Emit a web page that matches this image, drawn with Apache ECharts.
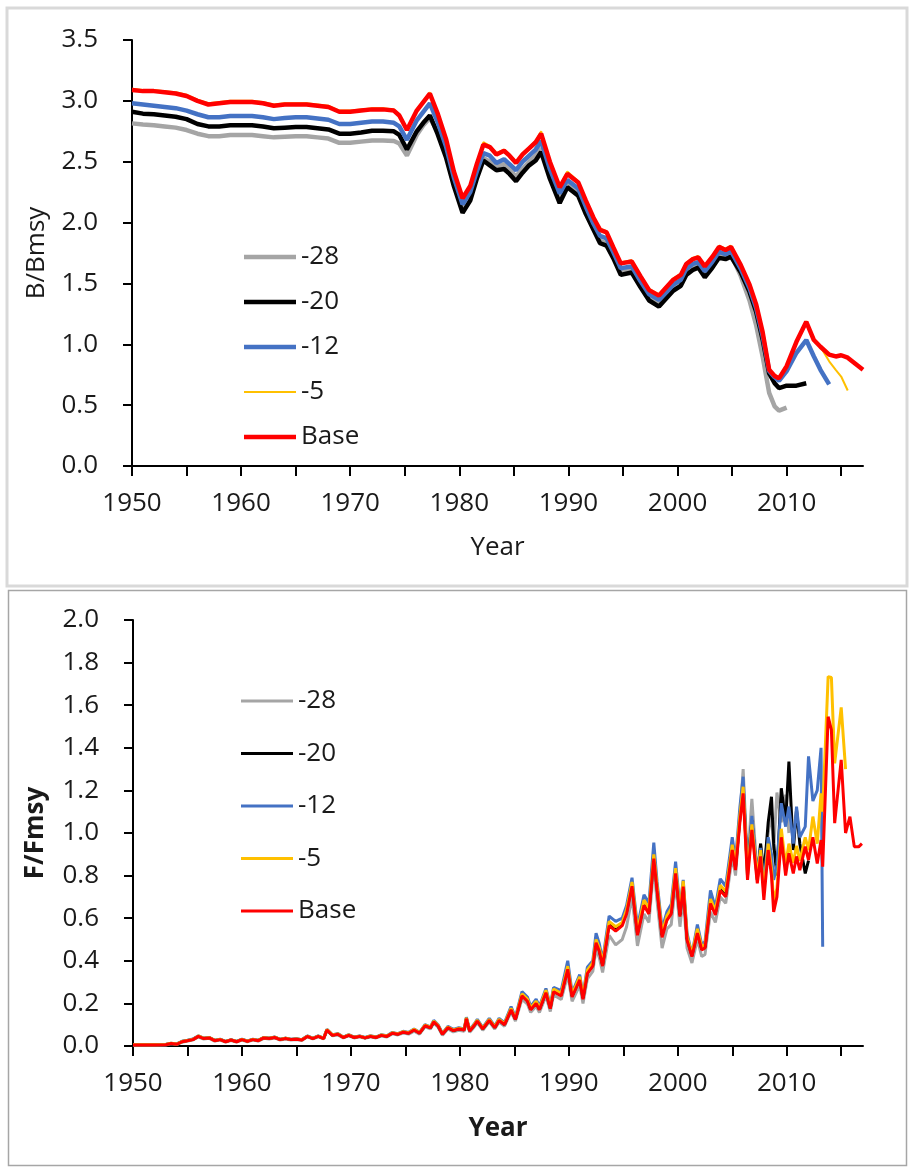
<!DOCTYPE html>
<html>
<head>
<meta charset="utf-8">
<script src="https://cdn.jsdelivr.net/npm/echarts@6/dist/echarts.min.js"></script>
<style>
html,body{margin:0;padding:0;background:#fff;}
#c{width:913px;height:1174px;}
</style>
</head>
<body>
<div id="c"></div>
<script>
// ---------- DATA ----------
const seriesNames = ['-28', '-20', '-12', '-5', 'Base'];
const seriesColors = ['#A5A5A5', '#000000', '#4472C4', '#FFC000', '#FF0000'];
const xTickValues = [1950,1955,1960,1965,1970,1975,1980,1985,1990,1995,2000,2005,2010,2015];
const xLabelValues = [1950,1960,1970,1980,1990,2000,2010];

// B/Bmsy panel
const yearsB = [1950,1951,1952,1953,1954,1955,1956,1957,1958,1959,1960,1961,1962,1963,1964,1965,1966,1967,1968,1969,1970,1971,1972,1973,1974,
  1974.5,1975.2,1976.1,1976.7,1977.3,1978,1978.8,1979.5,1980.3,1981,
  1981.6,1982.2,1982.8,1983.4,1984.1,1984.6,1985.2,1985.8,1986.4,1987,
  1987.5,1988.3,1989.2,1989.9,1990.9,1991.6,1992.3,1992.9,1993.5,1994.1,
  1994.8,1995.8,1996.6,1997.4,1998.3,1999,1999.6,2000.3,2000.8,2001.4,
  2001.9,2002.5,2003.2,2003.8,2004.4,2004.9,2005.8,2006.6,2007.2,2007.8,
  2008.4,2008.9,2009.3,2010,2010.9,2011.8,2012.5,2013.1,2013.9,2014.5,
  2015,2015.6,2016.3,2017];
const bM28 = [2.815,2.805,2.80,2.79,2.78,2.76,2.73,2.71,2.71,2.72,2.72,2.72,2.71,2.70,2.705,2.71,2.71,2.70,2.69,2.655,2.655,2.665,2.675,2.675,2.67,
  2.65,2.55,2.72,2.80,2.86,2.75,2.55,2.32,2.10,2.20,
  2.38,2.53,2.50,2.46,2.48,2.43,2.38,2.44,2.50,2.55,
  2.61,2.39,2.19,2.31,2.25,2.10,1.96,1.85,1.83,1.73,
  1.59,1.61,1.49,1.38,1.33,1.40,1.46,1.50,1.59,1.63,
  1.65,1.57,1.65,1.73,1.72,1.74,1.56,1.36,1.16,0.90,
  0.60,0.49,0.455,0.48];
const bM20 = [2.91,2.895,2.89,2.88,2.87,2.85,2.81,2.79,2.79,2.80,2.80,2.80,2.79,2.775,2.78,2.785,2.785,2.775,2.765,2.73,2.73,2.74,2.755,2.755,2.75,
  2.72,2.60,2.75,2.82,2.88,2.73,2.53,2.30,2.08,2.18,
  2.36,2.51,2.47,2.43,2.44,2.40,2.34,2.41,2.47,2.51,
  2.58,2.36,2.16,2.29,2.22,2.07,1.94,1.83,1.81,1.71,
  1.57,1.59,1.47,1.36,1.31,1.38,1.44,1.48,1.57,1.61,
  1.63,1.55,1.63,1.71,1.70,1.72,1.59,1.43,1.27,1.04,
  0.76,0.68,0.64,0.66,0.66,0.68];
const bM12 = [2.98,2.97,2.96,2.95,2.94,2.92,2.89,2.865,2.865,2.875,2.875,2.875,2.865,2.85,2.86,2.865,2.865,2.855,2.845,2.81,2.81,2.82,2.83,2.83,2.82,
  2.79,2.68,2.84,2.91,2.98,2.83,2.62,2.37,2.15,2.25,
  2.42,2.57,2.55,2.49,2.52,2.48,2.43,2.50,2.55,2.60,
  2.67,2.44,2.24,2.35,2.28,2.13,1.99,1.89,1.87,1.76,
  1.625,1.64,1.52,1.41,1.365,1.43,1.49,1.53,1.62,1.66,
  1.675,1.60,1.68,1.76,1.74,1.765,1.62,1.46,1.30,1.07,
  0.78,0.73,0.70,0.78,0.93,1.035,0.90,0.79,0.67];
const bM5 = [3.10,3.09,3.09,3.08,3.07,3.05,3.01,2.98,2.99,3.00,3.00,3.00,2.99,2.97,2.98,2.98,2.98,2.97,2.96,2.92,2.92,2.93,2.94,2.94,2.93,
  2.89,2.77,2.93,3.00,3.07,2.91,2.69,2.43,2.21,2.31,
  2.49,2.66,2.63,2.57,2.60,2.56,2.50,2.57,2.62,2.67,
  2.75,2.51,2.30,2.42,2.34,2.19,2.05,1.95,1.93,1.81,
  1.675,1.69,1.57,1.455,1.41,1.48,1.54,1.58,1.67,1.71,
  1.725,1.65,1.73,1.81,1.785,1.81,1.66,1.50,1.34,1.11,
  0.80,0.75,0.73,0.83,1.03,1.19,1.04,0.98,0.86,0.79,
  0.735,0.62];
const bBase = [3.09,3.08,3.08,3.07,3.06,3.04,3.00,2.97,2.98,2.99,2.99,2.99,2.98,2.96,2.97,2.97,2.97,2.96,2.95,2.91,2.91,2.92,2.93,2.93,2.92,
  2.88,2.76,2.92,2.99,3.06,2.90,2.68,2.42,2.20,2.30,
  2.48,2.64,2.62,2.56,2.59,2.55,2.49,2.56,2.61,2.66,
  2.73,2.50,2.29,2.40,2.33,2.18,2.04,1.94,1.92,1.80,
  1.665,1.68,1.56,1.445,1.40,1.47,1.53,1.57,1.66,1.70,
  1.715,1.64,1.72,1.80,1.775,1.80,1.65,1.49,1.33,1.10,
  0.79,0.74,0.72,0.82,1.02,1.185,1.035,0.98,0.915,0.90,
  0.91,0.89,0.84,0.79];

// F/Fmsy panel
const yearsF = [1950,1951,1952,1953,1953.5,1954,1954.5,1955,1955.5,1956,
  1956.5,1957,1957.5,1958,1958.5,1959,1959.5,1960,1960.5,1961,
  1961.5,1962,1962.5,1963,1963.5,1964,1964.5,1965,1965.5,1966,
  1966.5,1967,1967.5,1967.8,1968.3,1968.8,1969.3,1969.8,1970.3,1970.8,
  1971.3,1971.8,1972.3,1972.8,1973.3,1973.8,1974.3,1974.8,1975.3,1975.8,
  1976.3,1976.8,1977.3,1977.6,1978.0,1978.4,1978.9,1979.4,1979.9,1980.4,
  1980.6,1980.9,1981.3,1981.6,1982.1,1982.7,1983.2,1983.6,1984.1,1984.7,
  1985.1,1985.7,1986.2,1986.5,1987.0,1987.3,1987.9,1988.3,1988.6,1989.3,
  1989.9,1990.3,1991.0,1991.3,1991.7,1992.2,1992.5,1992.8,1993.1,1993.7,
  1994.3,1994.9,1995.3,1995.8,1996.3,1996.9,1997.35,1997.8,1998.1,1998.56,
  1999.0,1999.4,1999.8,2000.2,2000.5,2000.85,2001.3,2001.8,2002.2,2002.5,
  2003.0,2003.45,2003.9,2004.4,2005.0,2005.3,2005.7,2006.0,2006.4,2006.8,
  2007.3,2007.6,2007.9,2008.3,2008.6,2008.8,2009.1,2009.5,2009.9,2010.2,
  2010.6,2010.9,2011.2,2011.7,2012.0,2012.4,2012.8,2013.15,2013.3,2013.8,
  2014.1,2014.4,2015.0,2015.4,2015.8,2016.2,2016.6,2016.9];
const fM28 = [0.004,0.004,0.004,0.005,0.01,0.007,0.018,0.023,0.028,0.042,
  0.033,0.036,0.023,0.028,0.018,0.026,0.018,0.028,0.02,0.028,
  0.023,0.036,0.033,0.038,0.028,0.033,0.028,0.03,0.026,0.043,
  0.033,0.043,0.033,0.072,0.048,0.052,0.038,0.048,0.038,0.043,
  0.036,0.043,0.038,0.047,0.042,0.057,0.052,0.061,0.056,0.07,
  0.056,0.09,0.08,0.107,0.088,0.05,0.08,0.066,0.074,0.069,
  0.12,0.064,0.088,0.11,0.074,0.113,0.08,0.112,0.093,0.16,
  0.117,0.22,0.197,0.158,0.187,0.157,0.235,0.162,0.24,0.218,
  0.335,0.21,0.285,0.20,0.315,0.35,0.455,0.415,0.345,0.52,
  0.475,0.50,0.56,0.70,0.47,0.62,0.58,0.84,0.68,0.46,
  0.55,0.57,0.77,0.56,0.70,0.46,0.39,0.50,0.42,0.43,
  0.63,0.58,0.70,0.67,0.89,0.80,1.07,1.30,0.85,1.16,
  0.80,0.95,0.83,1.00,1.10,0.92,1.19,1.05,1.18,1.00];
const fM20 = [0.006,0.006,0.006,0.007,0.012,0.009,0.021,0.026,0.031,0.046,
  0.036,0.039,0.026,0.031,0.021,0.029,0.021,0.031,0.023,0.031,
  0.026,0.039,0.036,0.041,0.031,0.036,0.031,0.033,0.029,0.046,
  0.036,0.046,0.036,0.076,0.051,0.056,0.041,0.051,0.041,0.046,
  0.039,0.046,0.041,0.051,0.046,0.061,0.056,0.066,0.061,0.076,
  0.061,0.096,0.086,0.114,0.095,0.056,0.087,0.073,0.081,0.076,
  0.129,0.071,0.096,0.118,0.081,0.121,0.087,0.121,0.101,0.172,
  0.126,0.24,0.215,0.172,0.205,0.172,0.255,0.178,0.26,0.24,
  0.37,0.235,0.315,0.225,0.345,0.38,0.49,0.45,0.38,0.575,
  0.55,0.575,0.63,0.76,0.53,0.67,0.63,0.89,0.74,0.52,
  0.60,0.63,0.82,0.615,0.755,0.505,0.425,0.54,0.455,0.465,
  0.68,0.625,0.74,0.71,0.93,0.84,1.07,1.22,0.82,1.06,
  0.78,0.95,0.80,1.05,1.17,0.95,0.80,1.21,1.05,1.335,
  0.92,1.108,0.95,0.81,0.87];
const fM12 = [0.006,0.006,0.006,0.007,0.013,0.01,0.022,0.027,0.033,0.048,
  0.037,0.04,0.027,0.032,0.022,0.03,0.022,0.032,0.024,0.032,
  0.027,0.04,0.037,0.042,0.032,0.037,0.032,0.034,0.03,0.047,
  0.037,0.047,0.037,0.078,0.053,0.058,0.042,0.053,0.042,0.047,
  0.04,0.048,0.042,0.053,0.048,0.064,0.058,0.069,0.064,0.08,
  0.064,0.1,0.09,0.12,0.1,0.06,0.092,0.078,0.086,0.08,
  0.135,0.076,0.102,0.125,0.086,0.13,0.093,0.13,0.11,0.185,
  0.135,0.255,0.23,0.185,0.22,0.185,0.27,0.19,0.275,0.26,
  0.40,0.25,0.335,0.24,0.37,0.40,0.53,0.48,0.40,0.61,
  0.585,0.60,0.66,0.79,0.56,0.71,0.67,0.955,0.77,0.55,
  0.63,0.665,0.865,0.65,0.78,0.53,0.43,0.57,0.475,0.49,
  0.73,0.65,0.785,0.75,0.98,0.87,1.12,1.264,0.80,1.08,
  0.80,0.93,0.76,0.98,0.90,0.78,0.85,1.14,1.03,1.124,
  0.95,1.124,0.98,1.03,1.36,1.15,1.20,1.40,0.466];
const fM5 = [0.006,0.006,0.006,0.007,0.013,0.009,0.021,0.026,0.031,0.047,
  0.036,0.039,0.026,0.031,0.021,0.029,0.021,0.031,0.023,0.031,
  0.026,0.039,0.036,0.041,0.031,0.036,0.031,0.033,0.029,0.046,
  0.036,0.046,0.036,0.077,0.052,0.057,0.041,0.052,0.041,0.046,
  0.039,0.047,0.041,0.052,0.047,0.062,0.057,0.067,0.062,0.078,
  0.062,0.098,0.088,0.117,0.097,0.058,0.089,0.075,0.083,0.078,
  0.132,0.073,0.099,0.121,0.083,0.125,0.09,0.125,0.105,0.177,
  0.13,0.245,0.22,0.178,0.21,0.178,0.262,0.183,0.267,0.247,
  0.375,0.242,0.325,0.232,0.356,0.39,0.50,0.46,0.39,0.585,
  0.56,0.58,0.64,0.77,0.54,0.685,0.645,0.90,0.75,0.53,
  0.61,0.645,0.835,0.63,0.775,0.515,0.43,0.55,0.465,0.475,
  0.69,0.635,0.755,0.725,0.945,0.85,1.08,1.217,0.80,1.04,
  0.79,0.92,0.72,0.95,0.83,0.68,0.74,1.02,0.85,0.95,
  0.86,0.94,0.87,0.98,0.92,1.077,0.95,1.186,1.10,1.734,
  1.73,1.327,1.59,1.30];
const fBase = [0.005,0.005,0.005,0.006,0.012,0.008,0.02,0.025,0.03,0.045,
  0.035,0.038,0.025,0.03,0.02,0.028,0.02,0.03,0.022,0.03,
  0.025,0.038,0.035,0.04,0.03,0.035,0.03,0.032,0.028,0.045,
  0.035,0.045,0.035,0.075,0.05,0.055,0.04,0.05,0.04,0.045,
  0.038,0.045,0.04,0.05,0.045,0.06,0.055,0.065,0.06,0.075,
  0.06,0.095,0.085,0.113,0.094,0.055,0.086,0.072,0.08,0.075,
  0.128,0.07,0.095,0.117,0.08,0.12,0.086,0.12,0.10,0.17,
  0.125,0.235,0.21,0.17,0.20,0.17,0.25,0.175,0.255,0.235,
  0.36,0.23,0.31,0.22,0.34,0.375,0.485,0.445,0.375,0.565,
  0.54,0.565,0.62,0.75,0.52,0.66,0.62,0.88,0.73,0.51,
  0.59,0.62,0.81,0.607,0.748,0.497,0.42,0.53,0.451,0.46,
  0.669,0.615,0.73,0.70,0.92,0.826,1.05,1.186,0.78,1.015,
  0.764,0.89,0.686,0.92,0.80,0.63,0.70,0.98,0.80,0.905,
  0.81,0.89,0.826,0.936,0.873,0.98,0.857,0.967,0.842,1.546,
  1.484,1.046,1.343,1.00,1.077,0.936,0.935,0.95];

// ---------- CHART ----------
const FONT = '"Open Sans", "Noto Sans", sans-serif';
const TXT = '#1a1a1a';
const zip = (xs, vs) => vs.map((v, i) => [xs[i], v]);

const bValues = [bM28, bM20, bM12, bM5, bBase];
const fValues = [fM28, fM20, fM12, fM5, fBase];
const bWidths = [4.5, 4.5, 4.5, 2, 4.5];
const fWidth = 3;

function xAxisCfg(gridIndex, bold, nameGap) {
  return {
    type: 'value', gridIndex, min: 1950, max: 2017,
    name: 'Year', nameLocation: 'middle', nameGap,
    nameTextStyle: { fontFamily: FONT, fontSize: 26, color: TXT, fontWeight: bold ? 'bold' : 'normal' },
    axisLine: { show: true, onZero: false, lineStyle: { color: '#000', width: 2 } },
    axisTick: { show: true, customValues: xTickValues, length: 10, inside: false, lineStyle: { color: '#000', width: 2 } },
    axisLabel: { show: true, customValues: xLabelValues, margin: 25, fontFamily: FONT, fontSize: 26, color: TXT, formatter: v => String(v) },
    splitLine: { show: false }
  };
}
function yAxisCfg(gridIndex, name, max, interval, bold, nameGap) {
  return {
    type: 'value', gridIndex, min: 0, max, interval,
    name, nameLocation: 'middle', nameGap,
    nameTextStyle: { fontFamily: FONT, fontSize: 26, color: TXT, fontWeight: bold ? 'bold' : 'normal' },
    axisLine: { show: true, lineStyle: { color: '#000', width: 2 } },
    axisTick: { show: true, length: 9, inside: false, lineStyle: { color: '#000', width: 2 } },
    axisLabel: { margin: 34, fontFamily: FONT, fontSize: 26, color: TXT, formatter: v => v.toFixed(1) },
    splitLine: { show: false }
  };
}

const series = [];
seriesNames.forEach((n, i) => {
  series.push({
    name: n, type: 'line', xAxisIndex: 0, yAxisIndex: 0,
    data: zip(yearsB, bValues[i]), showSymbol: false, symbol: 'none',
    lineStyle: { color: seriesColors[i], width: bWidths[i] }, itemStyle: { color: seriesColors[i] },
    z: 2 + i
  });
});
seriesNames.forEach((n, i) => {
  series.push({
    name: n, type: 'line', xAxisIndex: 1, yAxisIndex: 1,
    data: zip(yearsF, fValues[i]), showSymbol: false, symbol: 'none',
    lineStyle: { color: seriesColors[i], width: fWidth }, itemStyle: { color: seriesColors[i] },
    z: 2 + i
  });
});

const linePath = w => 'path://M0 0H52V' + w + 'H0Z';
const topLegendData = seriesNames.map((n, i) => ({ name: n, icon: linePath(bWidths[i]) }));
const botLegendData = seriesNames.map(n => ({ name: n, icon: linePath(fWidth) }));

const option = {
  animation: false,
  backgroundColor: '#fff',
  graphic: [
    { type: 'rect', shape: { x: 7, y: 8, width: 900, height: 578 }, style: { fill: 'none', stroke: '#d9d9d9', lineWidth: 3 }, z: -10 },
    { type: 'rect', shape: { x: 8.5, y: 590.5, width: 898, height: 575 }, style: { fill: 'none', stroke: '#a6a6a6', lineWidth: 1.5 }, z: -10 }
  ],
  grid: [
    { left: 132, right: 50, top: 40, height: 426, containLabel: false },
    { left: 133, right: 50, top: 620, height: 426, containLabel: false }
  ],
  xAxis: [xAxisCfg(0, false, 69), xAxisCfg(1, true, 70)],
  yAxis: [yAxisCfg(0, 'B/Bmsy', 3.5, 0.5, false, 82), yAxisCfg(1, 'F/Fmsy', 2.0, 0.2, true, 84)],
  legend: [
    { orient: 'vertical', left: 239, top: 239, itemWidth: 52, itemHeight: 14, itemGap: 19, itemSymbolKeepAspect: true,
      textStyle: { fontFamily: FONT, fontSize: 26, color: TXT },
      data: topLegendData, selectedMode: false },
    { orient: 'vertical', left: 236, top: 683, itemWidth: 52, itemHeight: 14, itemGap: 26.5, itemSymbolKeepAspect: true,
      textStyle: { fontFamily: FONT, fontSize: 26, color: TXT },
      data: botLegendData, selectedMode: false }
  ],
  series
};

const chart = echarts.init(document.getElementById('c'), null, { renderer: 'canvas' });
chart.setOption(option);
</script>
</body>
</html>
